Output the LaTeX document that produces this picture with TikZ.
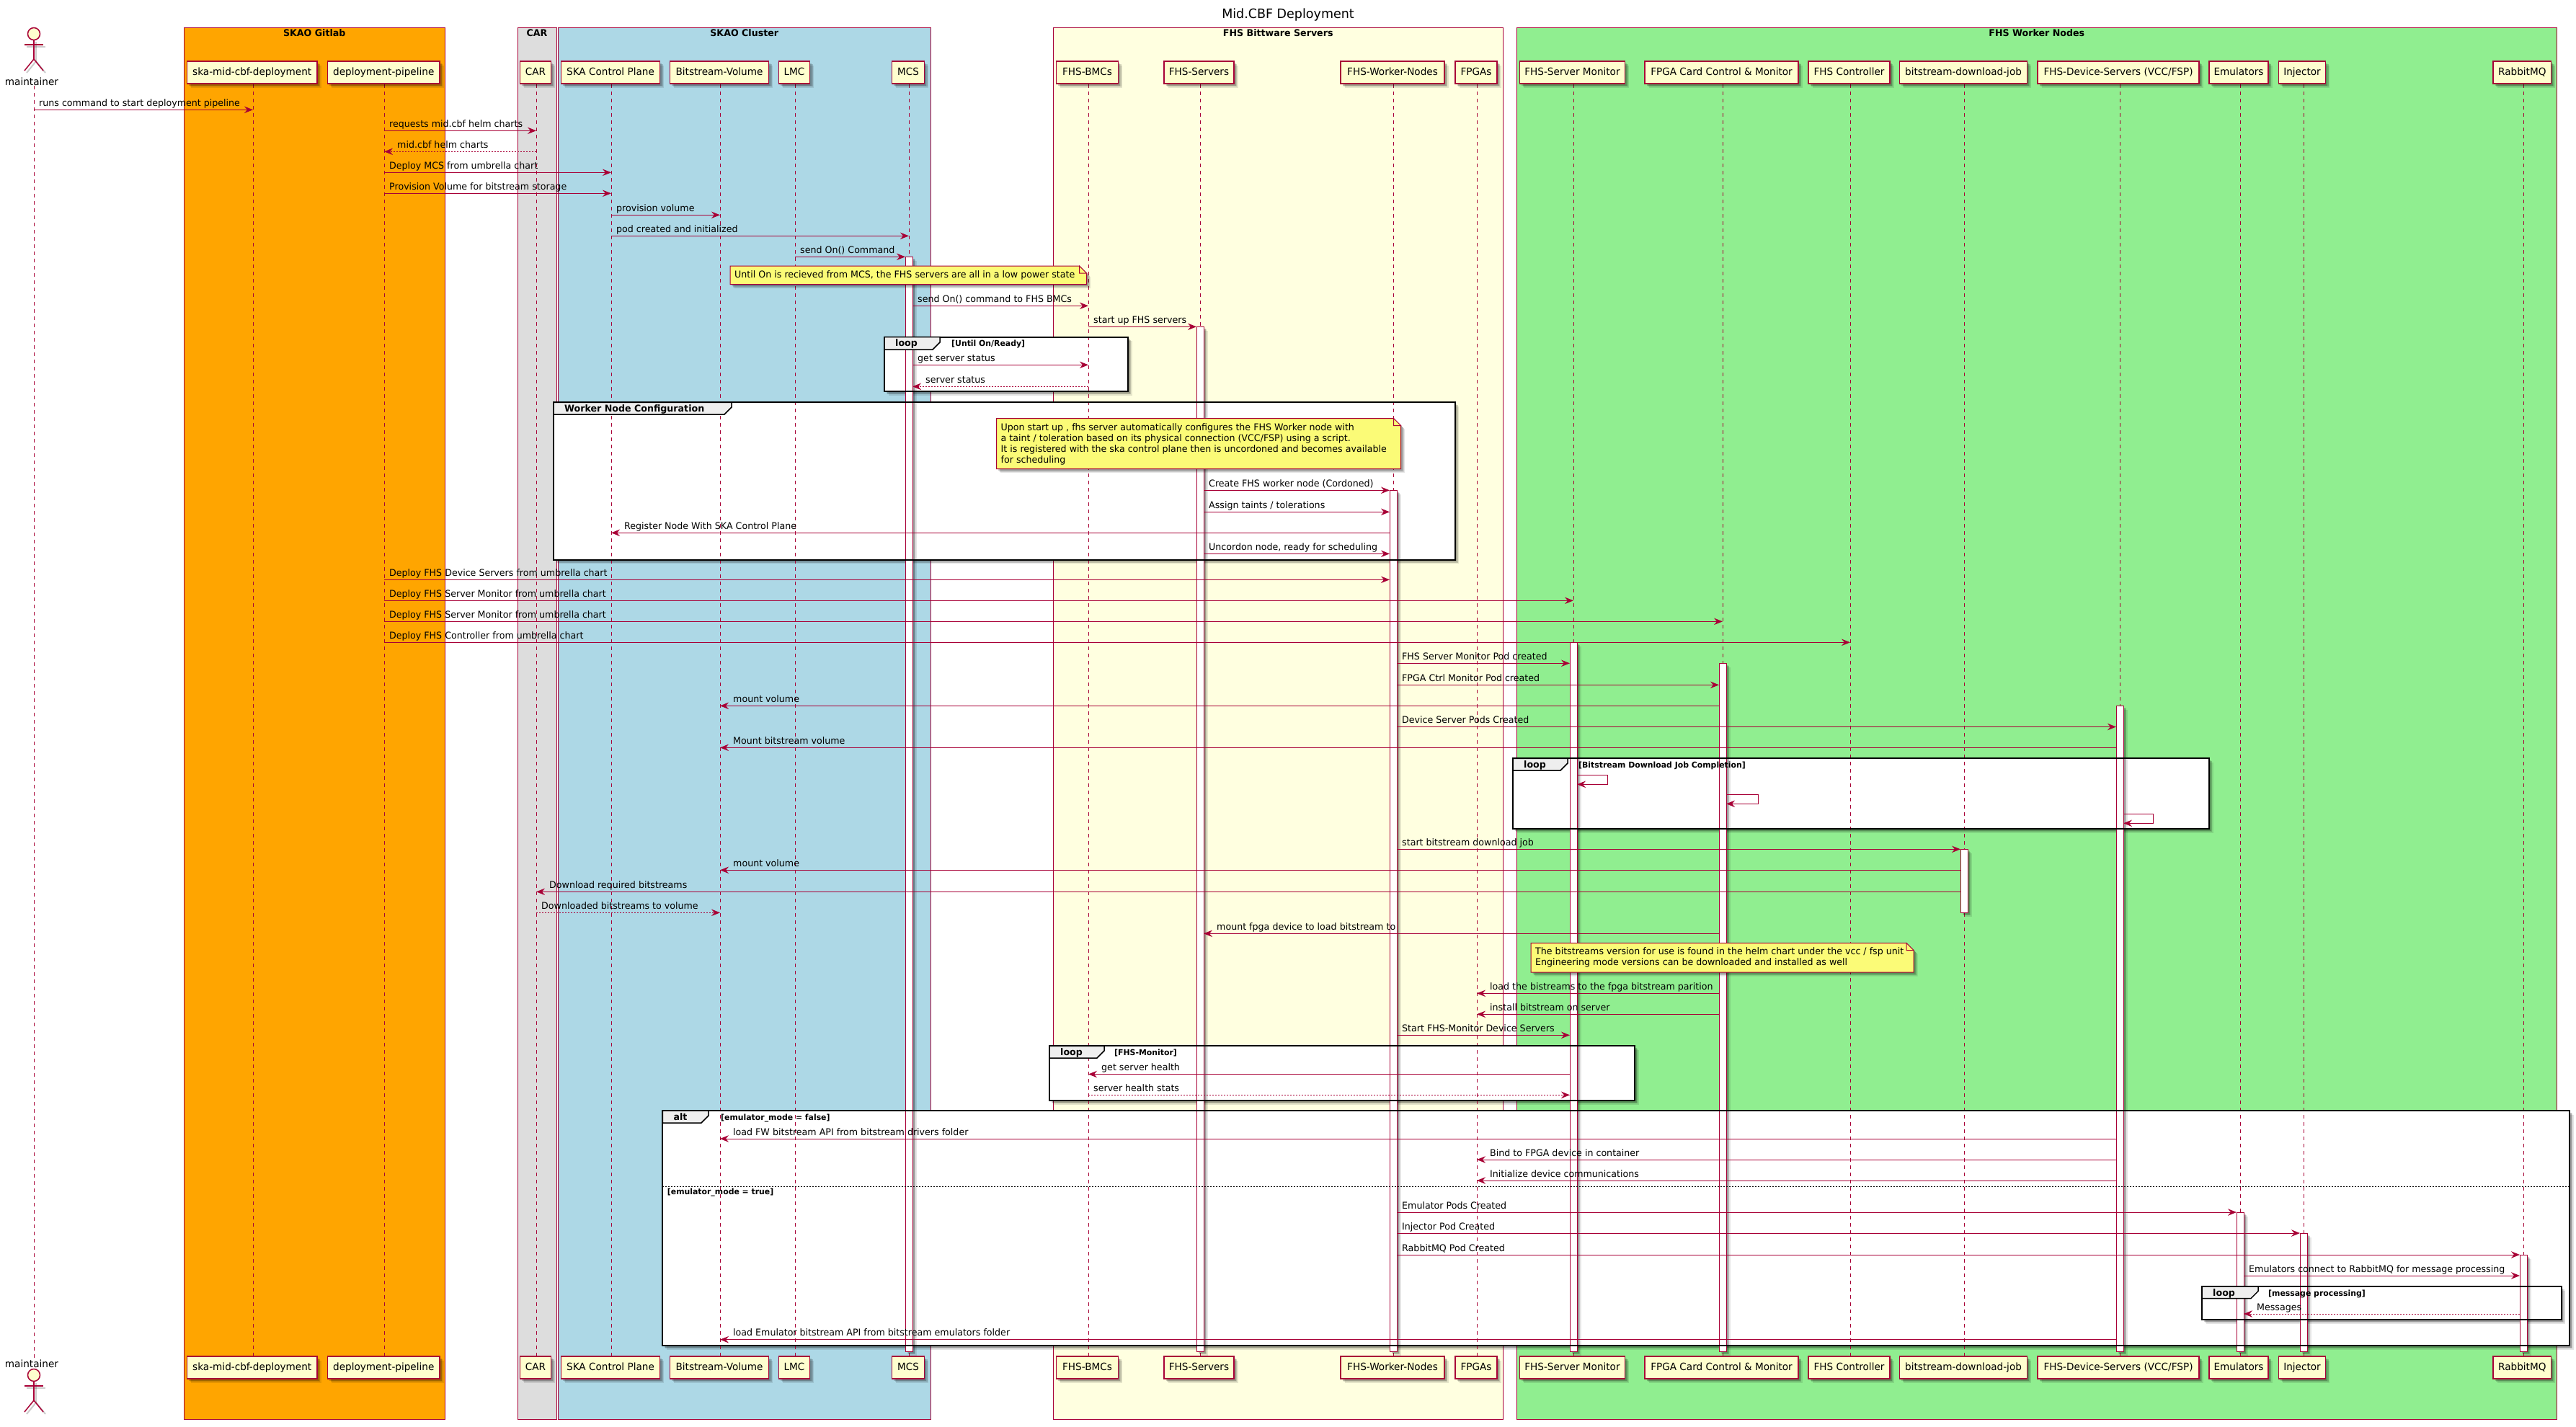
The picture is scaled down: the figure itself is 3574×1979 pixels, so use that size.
\documentclass[tikz,border=0pt]{standalone}
\usepackage{fontspec}
\setmainfont[FakeStretch=0.972]{DejaVu Sans}
\usetikzlibrary{arrows.meta,calc,shadows}
\definecolor{umlred}{HTML}{A80036}
\definecolor{umlpart}{HTML}{FEFECE}
\definecolor{umlnote}{HTML}{FBFB77}
\definecolor{umltab}{HTML}{EEEEEE}
\definecolor{bxorange}{HTML}{FFA500}
\definecolor{bxgrey}{HTML}{DDDDDD}
\definecolor{bxblue}{HTML}{ADD8E6}
\definecolor{bxyellow}{HTML}{FFFFE0}
\definecolor{bxgreen}{HTML}{90EE90}
\pgfdeclarelayer{under}
\pgfsetlayers{under,main}
\newcounter{mm}
\tikzset{
  txt/.style={font=\fontsize{13}{15.3}\selectfont,inner sep=0pt,text=black},
  ntxt/.style={font=\fontsize{14}{16}\selectfont,inner sep=0pt,text=black},
  btxt/.style={font=\fontsize{13}{15.3}\selectfont\bfseries,inner sep=0pt,text=black},
  gtxt/.style={font=\fontsize{11.2}{13}\selectfont\bfseries,inner sep=0pt,text=black},
  softshadow/.style={
    drop shadow={shadow xshift=5.5pt,shadow yshift=-5.5pt,opacity=.10,fill=black},
    drop shadow={shadow xshift=4pt,shadow yshift=-4pt,opacity=.16,fill=black},
    drop shadow={shadow xshift=2.5pt,shadow yshift=-2.5pt,opacity=.18,fill=black}},
  partbox/.style={draw=umlred,line width=1.5pt,fill=umlpart,inner sep=0pt,minimum height=31pt,
     font=\fontsize{14}{16}\selectfont,text height=11pt,text depth=2.5pt,softshadow},
  grpbox/.style={draw=umlred,line width=1pt,inner sep=0pt},
  life/.style={draw=umlred,line width=.9pt,dash pattern=on 5pt off 5pt},
  msgline/.style={draw=umlred,line width=1pt,-{Stealth[length=12pt,width=9.5pt,inset=4pt,fill=umlred]}},
  dotmsg/.style={dash pattern=on 2pt off 2pt},
  actv/.style={draw=umlred,line width=1pt,fill=white,softshadow},
  frmfill/.style={fill=white,softshadow},
  frmline/.style={draw=black,line width=2pt},
  tabshape/.style={draw=black,line width=1.5pt,fill=umltab},
  notebody/.style={draw=umlred,line width=1pt,fill=umlnote,softshadow},
  notefold/.style={draw=umlred,line width=1pt,fill=umlnote},
  stick/.style={draw=umlred,line width=1.5pt},
  stickshade/.style={draw=black,opacity=.2,line width=2pt}
}
% lifeline coordinates
\newcommand\lf[2]{\coordinate (#1) at (#2,0);\coordinate (#1L) at (#2-5,0);\coordinate (#1R) at (#2+5,0);}
% participant, top and bottom: name, x1, x2, text
\newcommand\ptc[4]{%
  \node[partbox,minimum width={(#3-#2)*1pt}] (#1T) at ({(#2+#3)/2},100.7) {#4};
  \node[partbox,minimum width={(#3-#2)*1pt}] (#1B) at ({(#2+#3)/2},1897.5) {#4};}
\newcommand\lifeline[1]{\draw[life] (#1 |- #1T.south) -- (#1 |- #1B.north);}
% group box: name,x1,x2,colour,title
\newcommand\grp[5]{%
  \node[grpbox,fill=#4,minimum width={(#3-#2)*1pt},minimum height=1930.7pt] (#1) at ({(#2+#3)/2},1003.7) {};
  \node[btxt,text height=10pt,text depth=3pt] (#1t) at ({(#2+#3)/2},47) {#5};}
% rightward and leftward messages
\newcommand\mr[5][]{\stepcounter{mm}%
  \coordinate (s\themm) at (#2 |- 0,#4);\coordinate (e\themm) at (#3 |- 0,#4);
  \draw[msgline,#1] (s\themm) -- (e\themm);
  \node[txt,anchor=base west] (t\themm) at ([xshift=7pt,yshift=5pt]s\themm) {#5};}
\newcommand\ml[5][]{\stepcounter{mm}%
  \coordinate (s\themm) at (#2 |- 0,#4);\coordinate (e\themm) at (#3 |- 0,#4);
  \draw[msgline,#1] (s\themm) -- (e\themm);
  \node[txt,anchor=base west] (t\themm) at ([xshift=18pt,yshift=5pt]e\themm) {#5};}
% self message: lifeline coord, y1, right x, y2
\newcommand\selfm[4]{\stepcounter{mm}%
  \coordinate (s\themm) at (#1 |- 0,#2);\coordinate (e\themm) at (#1 |- 0,#4);
  \draw[msgline] (s\themm) -- (#3,#2) -- (#3,#4) -- (e\themm);}
\newcommand\act[3]{\draw[actv] (#1L |- 0,#2) rectangle (#1R |- 0,#3);}
% frames
\newcommand\frf[4]{\fill[frmfill] (#1,#2) rectangle (#3,#4);}
\newcommand\frb[9]{% x1,y1,x2,y2,tabright,tabbottom,keyword,guard,guardx
  \draw[frmline] (#1,#2) rectangle (#3,#4);
  \draw[tabshape] (#1,#2) -- (#5,#2) -- (#5,#6-10) -- (#5-10,#6) -- (#1,#6) -- cycle;
  \stepcounter{mm}%
  \node[btxt,anchor=base west] (k\themm) at (#1+15,#2+13) {#7};
  \node[gtxt,anchor=base west] (g\themm) at (#9,#2+13) {#8};}
% note: x1,y1,x2,y2,textx,texty,text
\newcommand\notebox[7]{\stepcounter{mm}%
  \draw[notebody] (#1,#2) -- (#3-10,#2) -- (#3,#2+10) -- (#3,#4) -- (#1,#4) -- cycle;
  \draw[notefold] (#3-10,#2) -- (#3-10,#2+10) -- (#3,#2+10) -- cycle;
  \node[txt,anchor=north west,align=left] (n\themm) at (#5,#6) {#7};}
% actor
\newcommand\actorfig[2]{% y of head centre, style
  \draw[#2] (47,#1+8) -- (47,#1+35);
  \draw[#2] (34,#1+15) -- (60,#1+15);
  \draw[#2] (34,#1+51) -- (47,#1+35) -- (60,#1+51);}
\begin{document}
\begin{tikzpicture}[x=1pt,y=-1pt]
\useasboundingbox (0,0) rectangle (3574,1979);
\begin{pgfonlayer}{under}
\fill[white] (0,0) rectangle (3574,1979);
\end{pgfonlayer}
\lf{maint}{47}\lf{ska}{351}\lf{pipe}{533}\lf{car}{744}\lf{cp}{848}\lf{vol}{999}\lf{lmc}{1103}\lf{mcs}{1261}
\lf{bmc}{1510}\lf{srv}{1665}\lf{wrk}{1933}\lf{fpga}{2049}\lf{mon}{2183}\lf{card}{2390}\lf{ctl}{2567}
\lf{job}{2725}\lf{dev}{2941}\lf{emu}{3108}\lf{inj}{3196}\lf{rmq}{3501}

\node[font=\fontsize{18}{21}\selectfont,inner sep=0pt] (title) at (1787,21) {Mid.CBF Deployment};

% participants
\ptc{ska}{259.5}{440}{ska-mid-cbf-deployment}
\ptc{pipe}{454.5}{610}{deployment-pipeline}
\ptc{car}{721.5}{764.5}{CAR}
\ptc{cp}{778.5}{915.5}{SKA Control Plane}
\ptc{vol}{929.5}{1066.5}{Bitstream-Volume}
\ptc{lmc}{1080.5}{1123.5}{LMC}
\ptc{mcs}{1237.5}{1282.5}{MCS}
\ptc{bmc}{1465.5}{1551.5}{FHS-BMCs}
\ptc{srv}{1615}{1712}{FHS-Servers}
\ptc{wrk}{1860}{2004}{FHS-Worker-Nodes}
\ptc{fpga}{2019}{2077}{FPGAs}
\ptc{mon}{2108.5}{2254.5}{FHS-Server Monitor}
\ptc{card}{2282}{2495}{FPGA Card Control \& Monitor}
\ptc{ctl}{2509}{2622}{FHS Controller}
\ptc{job}{2635.5}{2812.5}{bitstream-download-job}
\ptc{dev}{2827}{3051}{FHS-Device-Servers (VCC/FSP)}
\ptc{emu}{3065}{3147}{Emulators}
\ptc{inj}{3161.5}{3226.5}{Injector}
\ptc{rmq}{3459}{3539.5}{RabbitMQ}
\node[ntxt] (maintT) at (44,113) {maintainer};
\node[ntxt] (maintB) at (44,1892) {maintainer};

% actors
\begin{scope}[shift={(3,3)}]
\actorfig{47}{stickshade}\actorfig{1908}{stickshade}
\end{scope}
\actorfig{47}{stick}\actorfig{1908}{stick}
\node[draw=umlred,line width=1.5pt,fill=umlpart,circle,minimum size=17pt,inner sep=0pt] (headT) at (47,47) {};
\node[draw=umlred,line width=1.5pt,fill=umlpart,circle,minimum size=17pt,inner sep=0pt] (headB) at (47,1908) {};

% notes
\notebox{1013}{369}{1507.5}{394.5}{1019}{375.5}{Until On is recieved from MCS, the FHS servers are all in a low power state}
\notebox{1382.5}{580.5}{1943.5}{650.5}{1388.5}{587}{Upon start up , fhs server automatically configures the FHS Worker node with\\a taint / toleration based on its physical connection (VCC/FSP) using a script.\\It is registered with the ska control plane then is uncordoned and becomes available\\for scheduling}
\notebox{2124}{1308.5}{2655}{1349}{2130}{1314.5}{The bitstreams version for use is found in the helm chart under the vcc / fsp unit\\Engineering mode versions can be downloaded and installed as well}

\begin{pgfonlayer}{under}
% group boxes
\grp{bgit}{255.5}{617}{bxorange}{SKAO Gitlab}
\grp{bcar}{718}{772}{bxgrey}{CAR}
\grp{bclu}{774.5}{1291}{bxblue}{SKAO Cluster}
\grp{bfhs}{1461}{2085.5}{bxyellow}{FHS Bittware Servers}
\grp{bwrk}{2104.5}{3547}{bxgreen}{FHS Worker Nodes}

% frame backgrounds
\frf{1227}{467.7}{1565}{543}
\frf{768}{558.3}{2018.7}{776.7}
\frf{2099}{1052.3}{3065}{1150}
\frf{1456}{1451.3}{2268}{1527.3}
\frf{919.3}{1541}{3565}{1867}
\frf{3055}{1785}{3553.7}{1831}

% lifelines
\lifeline{maint}\lifeline{ska}\lifeline{pipe}\lifeline{car}\lifeline{cp}\lifeline{vol}\lifeline{lmc}\lifeline{mcs}
\lifeline{bmc}\lifeline{srv}\lifeline{wrk}\lifeline{fpga}\lifeline{mon}\lifeline{card}\lifeline{ctl}
\lifeline{job}\lifeline{dev}\lifeline{emu}\lifeline{inj}\lifeline{rmq}

% activations
\act{mcs}{356.3}{1875}
\act{srv}{453.3}{1875}
\act{wrk}{680.3}{1875}
\act{mon}{891.3}{1875}
\act{card}{920.3}{1875}
\act{dev}{979.3}{1875}
\act{job}{1178.3}{1266.3}
\act{emu}{1682}{1875}
\act{inj}{1711}{1875}
\act{rmq}{1741}{1875}

% messages
\mr{maint}{ska}{152.3}{runs command to start deployment pipeline}
\mr{pipe}{car}{181.3}{requests mid.cbf helm charts}
\ml[dotmsg]{car}{pipe}{210.3}{mid.cbf helm charts}
\mr{pipe}{cp}{239.3}{Deploy MCS from umbrella chart}
\mr{pipe}{cp}{268.3}{Provision Volume for bitstream storage}
\mr{cp}{vol}{298.3}{provision volume}
\mr{cp}{mcs}{327.3}{pod created and initialized}
\mr{lmc}{mcsL}{356.3}{send On() Command}
\mr{mcsR}{bmc}{424.3}{send On() command to FHS BMCs}
\mr{bmc}{srvL}{453.3}{start up FHS servers}
\mr{mcsR}{bmc}{506.3}{get server status}
\ml[dotmsg]{bmc}{mcsR}{536.3}{server status}
\mr{srvR}{wrkL}{680.3}{Create FHS worker node (Cordoned)}
\mr{srvR}{wrkL}{710.3}{Assign taints / tolerations}
\ml{wrkL}{cp}{739.3}{Register Node With SKA Control Plane}
\mr{srvR}{wrkL}{768.3}{Uncordon node, ready for scheduling}
\mr{pipe}{wrkL}{804.3}{Deploy FHS Device Servers from umbrella chart}
\mr{pipe}{mon}{833.3}{Deploy FHS Server Monitor from umbrella chart}
\mr{pipe}{card}{862.3}{Deploy FHS Server Monitor from umbrella chart}
\mr{pipe}{ctl}{891.3}{Deploy FHS Controller from umbrella chart}
\mr{wrkR}{monL}{920.3}{FHS Server Monitor Pod created}
\mr{wrkR}{cardL}{950.3}{FPGA Ctrl Monitor Pod created}
\ml{cardL}{vol}{979.3}{mount volume}
\mr{wrkR}{devL}{1008.5}{Device Server Pods Created}
\ml{devL}{vol}{1037.3}{Mount bitstream volume}
\selfm{monR}{1075.3}{2230}{1088.3}
\selfm{cardR}{1102.3}{2439}{1115.3}
\selfm{devR}{1129.3}{2987}{1142.3}
\mr{wrkR}{jobL}{1178.3}{start bitstream download job}
\ml{jobL}{vol}{1207.3}{mount volume}
\ml{jobL}{car}{1237.3}{Download required bitstreams}
\mr[dotmsg]{car}{vol}{1266.3}{Downloaded bitstreams to volume}
\ml{cardL}{srvR}{1295.3}{mount fpga device to load bitstream to}
\ml{cardL}{fpga}{1378.3}{load the bistreams to the fpga bitstream parition}
\ml{cardL}{fpga}{1407.3}{install bitstream on server}
\mr{wrkR}{monL}{1436.3}{Start FHS-Monitor Device Servers}
\ml{monL}{bmc}{1490.5}{get server health}
\mr[dotmsg]{bmc}{monL}{1519.3}{server health stats}
\ml{devL}{vol}{1580}{load FW bitstream API from bitstream drivers folder}
\ml{devL}{fpga}{1609}{Bind to FPGA device in container}
\ml{devL}{fpga}{1638}{Initialize device communications}
\mr{wrkR}{emuL}{1682}{Emulator Pods Created}
\mr{wrkR}{injL}{1711}{Injector Pod Created}
\mr{wrkR}{rmqL}{1741}{RabbitMQ Pod Created}
\mr{emuR}{rmqL}{1770}{Emulators connect to RabbitMQ for message processing}
\ml[dotmsg]{rmqL}{emuR}{1823}{Messages}
\ml{devL}{vol}{1858.7}{load Emulator bitstream API from bitstream emulators folder}

% frame borders and tabs
\frb{1227}{467.7}{1565}{543}{1304}{485}{loop}{[Until On/Ready]}{1320}
\frb{768}{558.3}{2018.7}{776.7}{1015}{575}{Worker Node Configuration}{}{1030}
\frb{2099}{1052.3}{3065}{1150}{2175}{1069}{loop}{[Bitstream Download Job Completion]}{2190}
\frb{1456}{1451.3}{2268}{1527.3}{1532}{1468}{loop}{[FHS-Monitor]}{1546}
\frb{919.3}{1541}{3565}{1867}{983}{1558}{alt}{[emulator\_mode = false]}{1000}
\draw[draw=black,line width=1pt,dash pattern=on 2pt off 2pt] (919.3,1646.3) -- (3565,1646.3);
\node[gtxt,anchor=base west] (altg2) at (925.7,1657) {[emulator\_mode = true]};
\frb{3055}{1785}{3553.7}{1831}{3133}{1801.5}{loop}{[message processing]}{3147}
\end{pgfonlayer}
\end{tikzpicture}
\end{document}
